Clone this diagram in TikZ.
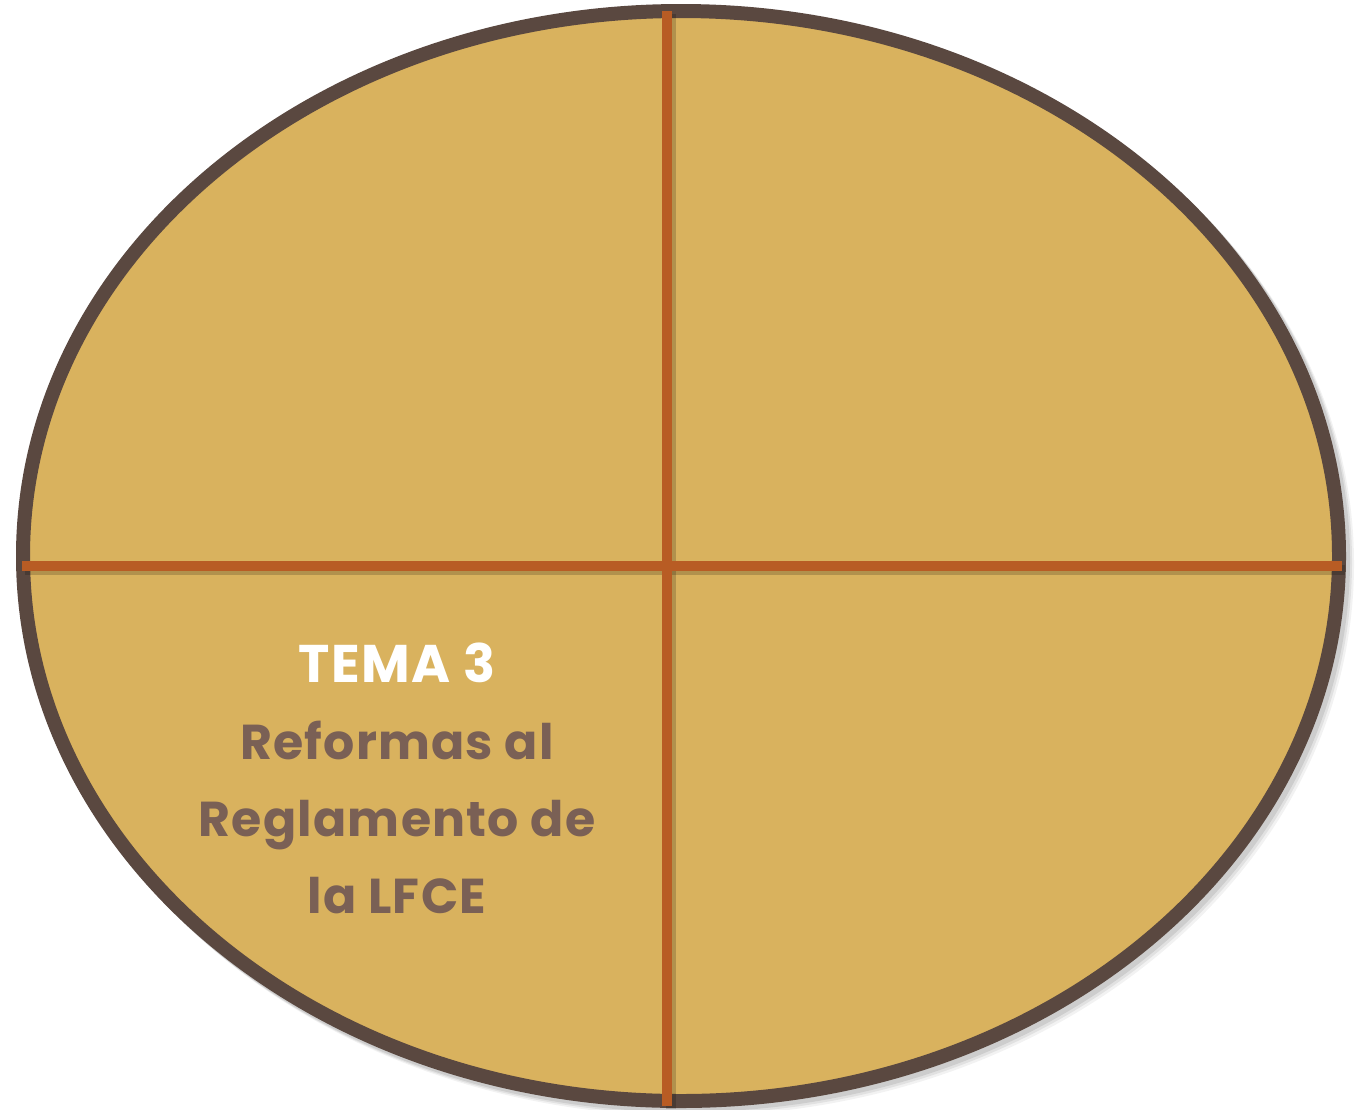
\documentclass[tikz,border=0pt]{standalone}
\usepackage{fontspec}
\setmainfont{Poppins}
\newfontfamily\popb[LetterSpace=2.5]{Poppins Bold}
\definecolor{ovalfill}{HTML}{D9B25E}
\definecolor{ovalline}{HTML}{5A4840}
\definecolor{crossline}{HTML}{B85C24}
\definecolor{txtbrown}{HTML}{7A6055}
\tikzset{
  ovalshape/.style={ellipse, draw=ovalline, fill=ovalfill, line width=14pt, minimum width=1316pt, minimum height=1090pt, inner sep=0pt},
  crossbar/.style={draw=crossline, line width=10pt},
  barshadow/.style={draw=black, opacity=0.18, line width=10pt},
  labeltext/.style={align=center, font=\popb\fontsize{49}{77}\selectfont, text=txtbrown}
}
\usetikzlibrary{shapes.geometric}
\begin{document}
\begin{tikzpicture}[x=1pt,y=-1pt]
\useasboundingbox (0,0) rectangle (1356,1109);
% soft shadow
\foreach \o/\a in {6/0.05,4/0.07,2/0.09}{
  \fill[black,opacity=\a] (683+\o,558+\o) ellipse [x radius=665pt, y radius=552pt];
}
\node[ovalshape] (oval) at (681,556) {};
\coordinate (vt) at (667,11);
\coordinate (vb) at (667,1106);
\coordinate (hl) at (22,566);
\coordinate (hr) at (1342,566);
\draw[barshadow] ([shift={(3,4)}]hl) -- ([shift={(3,4)}]hr);
\draw[barshadow] ([shift={(4,3)}]vt) -- ([shift={(4,3)}]vb);
\draw[crossbar] (vt) -- (vb);
\draw[crossbar] (hl) -- (hr);
\node[labeltext] (lbl) at (397,778) {{\color{white}\fontsize{53}{77}\selectfont TEMA 3}\\Reformas al\\Reglamento de\\la LFCE};
\end{tikzpicture}
\end{document}
